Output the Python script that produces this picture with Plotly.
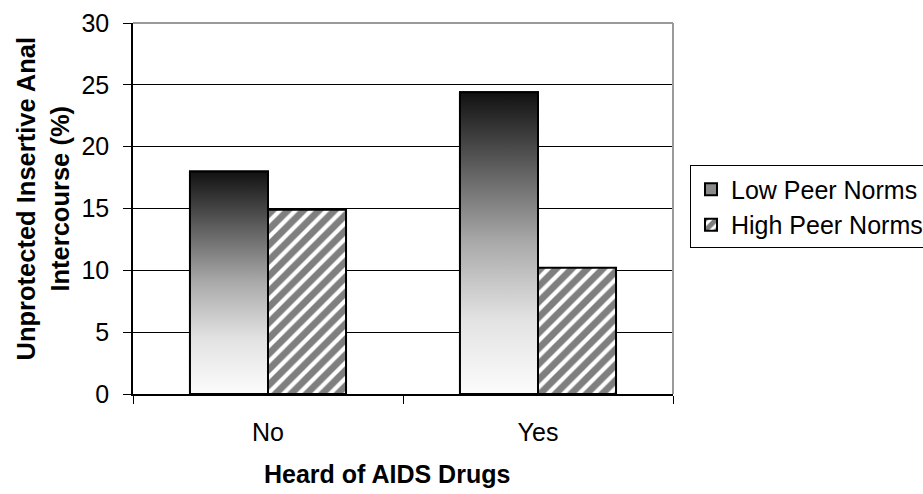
import plotly.graph_objects as go

# Survey results: % reporting unprotected insertive anal intercourse
categories = ["No", "Yes"]
low_peer_norms = [18.0, 24.4]
high_peer_norms = [14.9, 10.2]

series_names = ["Low Peer Norms", "High Peer Norms"]
x_title = "Heard of AIDS Drugs"
y_title = "Unprotected Insertive Anal<br>Intercourse (%)"

FONT = "Liberation Sans, Arial, sans-serif"
BAR_W = 0.289          # width of one bar in category units
positions = list(range(len(categories)))

grad_scale = [
    [0.0, "#fcfcfc"],
    [0.25, "#e2e2e2"],
    [0.5, "#aaaaaa"],
    [0.75, "#5e5e5e"],
    [1.0, "#111111"],
]

fig = go.Figure()

# Low peer norms: bar (for legend / outline) plus a vertical gradient fill on top
fig.add_trace(go.Bar(
    x=positions, y=low_peer_norms, name=series_names[0],
    offset=-BAR_W, width=BAR_W,
    marker=dict(color="#8a8a8a", line=dict(color="black", width=2)),
    hoverinfo="skip",
))
fig.add_trace(go.Bar(
    x=positions, y=high_peer_norms, name=series_names[1],
    offset=0, width=BAR_W,
    marker=dict(
        color="white",
        line=dict(color="black", width=2),
        pattern=dict(shape="/", fgcolor="black", bgcolor="white",
                     size=11, solidity=0.62),
    ),
    hoverinfo="skip",
))

for xi, v in zip(positions, low_peer_norms):
    x0, x1 = xi - BAR_W, xi
    fig.add_trace(go.Scatter(
        x=[x0, x0, x1, x1, x0], y=[0, v, v, 0, 0],
        mode="lines", fill="toself",
        line=dict(color="black", width=2),
        fillgradient=dict(type="vertical", colorscale=grad_scale),
        showlegend=False, hoverinfo="skip",
    ))

fig.update_layout(
    width=923, height=494,
    margin=dict(l=133, r=250, t=22.5, b=99.5, autoexpand=False),
    paper_bgcolor="white", plot_bgcolor="white",
    barmode="overlay",
    font=dict(family=FONT, size=25, color="black"),
    showlegend=True,
    legend=dict(
        x=(690 - 133) / 540, y=0.616, xanchor="left", yanchor="top",
        bordercolor="black", borderwidth=1, bgcolor="white",
        font=dict(family=FONT, size=25, color="black"),
        tracegroupgap=0,
    ),
    xaxis=dict(
        range=[-0.5, len(categories) - 0.5],
        tickmode="array", tickvals=positions, ticktext=categories,
        ticks="", showgrid=False, zeroline=False,
        showline=True, linecolor="black", linewidth=1.5,
        tickfont=dict(family=FONT, size=25, color="black"),
        ticklabelstandoff=15,
        minor=dict(tickmode="array",
                   tickvals=[p - 0.5 for p in positions] + [len(categories) - 0.5],
                   ticks="outside", ticklen=8, tickcolor="black", tickwidth=1,
                   showgrid=False),
    ),
    yaxis=dict(
        range=[0, 30], dtick=5, tick0=0,
        ticks="outside", ticklen=8, tickcolor="black", tickwidth=1,
        showgrid=True, gridcolor="black", gridwidth=1,
        zeroline=False,
        showline=True, linecolor="black", linewidth=1.5,
        tickfont=dict(family=FONT, size=25, color="black"),
        ticklabelstandoff=9,
    ),
    shapes=[
        dict(type="line", xref="paper", yref="paper", x0=0, x1=1, y0=1, y1=1,
             line=dict(color="#9a9a9a", width=2), layer="above"),
        dict(type="line", xref="paper", yref="paper", x0=1, x1=1, y0=0, y1=1,
             line=dict(color="#9a9a9a", width=2), layer="above"),
    ],
    annotations=[
        dict(text="<b>%s</b>" % x_title, xref="paper", yref="paper",
             x=(387 - 133) / 540, y=(394.5 - 475) / 372,
             xanchor="center", yanchor="middle", showarrow=False,
             font=dict(family=FONT, size=25, color="black")),
        dict(text="<b>%s</b>" % y_title, xref="paper", yref="paper",
             x=(43 - 133) / 540, y=(394.5 - 198.5) / 372, textangle=-90,
             xanchor="center", yanchor="middle", showarrow=False,
             font=dict(family=FONT, size=25.5, color="black")),
    ],
)

fig.write_html("out.html")
